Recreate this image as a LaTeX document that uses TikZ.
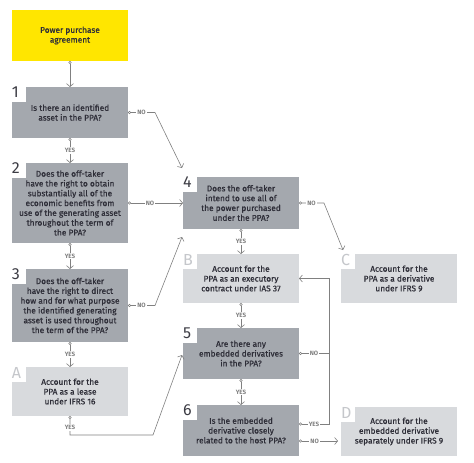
\documentclass[tikz,border=0pt]{standalone}
\usepackage{fontspec}
\setmainfont{Fira Sans}
\newfontfamily\boxfont{Fira Sans}[FakeBold=0.7]
\usetikzlibrary{arrows.meta,calc}
\definecolor{eyyellow}{HTML}{FFE600}
\definecolor{dgray}{HTML}{A4A8AE}
\definecolor{lgray}{HTML}{D8DADD}
\definecolor{txt}{HTML}{2E2E38}
\definecolor{lnc}{HTML}{808080}
\definecolor{lettc}{HTML}{C5C7CB}
\definecolor{numc}{HTML}{3C3C44}
\begin{document}
\begin{tikzpicture}[x=1pt,y=-1pt,
  box/.style={draw=none, anchor=north west, minimum width=116pt, inner sep=0pt, outer sep=0pt,
    align=center, text=txt, font=\boxfont\fontsize{8.3}{9.8}\selectfont},
  ybox/.style={box, fill=eyyellow},
  dbox/.style={box, fill=dgray},
  lbox/.style={box, fill=lgray},
  numlab/.style={anchor=north west, inner sep=0pt, outer sep=0pt, text=numc, font=\fontsize{16}{16}\selectfont},
  letlab/.style={numlab, text=lettc},
  conn/.style={draw=lnc, line width=0.6pt,
    {Circle[open,length=3pt,width=3pt,line width=0.5pt]}-{Straight Barb[length=3pt,width=7pt,line width=0.6pt]}},
  connj/.style={draw=lnc, line width=0.6pt, {Circle[open,length=3pt,width=3pt,line width=0.5pt]}-},
  lbl/.style={fill=white, inner sep=1pt, text=lnc, font=\fontsize{6.2}{6.2}\selectfont\bfseries}
]
\useasboundingbox (0,0) rectangle (474,463);

% boxes
\node[ybox, minimum height=51pt] (pp) at (12,10) {Power purchase\\agreement};
\node[dbox, minimum height=51pt] (q1) at (12,87) {Is there an identified\\asset in the PPA?};
\node[dbox, minimum height=80pt] (q2) at (12,163) {Does the off-taker\\have the right to obtain\\substantially all of the\\economic benefits from\\use of the generating asset\\throughout the term of\\the PPA?};
\node[dbox, minimum height=73pt] (q3) at (12,269) {Does the off-taker\\have the right to direct\\how and for what purpose\\the identified generating\\asset is used throughout\\the term of the PPA?};
\node[lbox, minimum height=49pt] (a) at (12,367) {Account for the\\PPA as a lease\\under IFRS 16};
\node[dbox, minimum height=52pt] (q4) at (183,177) {Does the off-taker\\intend to use all of\\the power purchased\\under the PPA?};
\node[lbox, minimum height=49pt] (b) at (183,254) {Account for the\\PPA as an executory\\contract under IAS 37};
\node[lbox, minimum height=49pt] (c) at (341,254) {Account for the\\PPA as a derivative\\under IFRS 9};
\node[dbox, minimum height=51pt] (q5) at (183,328) {Are there any\\embedded derivatives\\in the PPA?};
\node[dbox, minimum height=51pt] (q6) at (183,405) {Is the embedded\\derivative closely\\related to the host PPA?};
\node[lbox, minimum height=49pt] (d) at (341,407) {Account for the\\embedded derivative\\separately under IFRS 9};

% notches with numbers and letters
\foreach \n/\t/\s in {q1/1/numlab, q2/2/numlab, q3/3/numlab, q4/4/numlab, q5/5/numlab, q6/6/numlab,
                      a/A/letlab, b/B/letlab, c/C/letlab, d/D/letlab}{
  \fill[white] (\n.north west) rectangle ++(14,15);
  \node[\s] (lab\n) at (\n.north west) {\t};
}

% free ends
\coordinate (e1) at (182,168);
\coordinate (e3) at (182,237);
\coordinate (eA) at (182,355);
\coordinate (e4) at (343,250);

% connectors
\draw[conn] (pp.south) -- (q1.north);
\draw[conn] (q1.south) -- node[lbl]{YES} (q2.north);
\draw[conn] (q2.south) -- node[lbl]{YES} (q3.north);
\draw[conn] (q3.south) -- node[lbl]{YES} (a.north);
\draw[conn] (q1.east) -- node[lbl]{NO} ++(27,0) -- (e1);
\draw[conn] (q2.east) -- node[lbl,pos=0.4]{NO} (q4.west |- q2.east);
\draw[conn] (q3.east) -- node[lbl]{NO} ++(27,0) -- (e3);
\draw[conn] (a.south) -- node[lbl,pos=0.6]{YES} ++(0,19) -- ++(83,0) -- (eA);
\draw[conn] (q4.south) -- node[lbl]{YES} (b.north);
\draw[conn] (q4.east) -- node[lbl]{NO} ++(25,0) -- (e4);
\draw[conn] (b.south) -- node[lbl]{YES} (q5.north);
\draw[conn] (q5.south) -- node[lbl]{YES} (q6.north);
\draw[connj] (q5.east) -- node[lbl]{NO} ++(30,0);
\draw[conn] ([yshift=6.5pt]q6.east) -- node[lbl]{YES} ++(30,0) |- (b.east);
\draw[conn] ([yshift=-10.5pt]q6.east) -- node[lbl,pos=0.4]{NO} ++(39,0);
\end{tikzpicture}
\end{document}
